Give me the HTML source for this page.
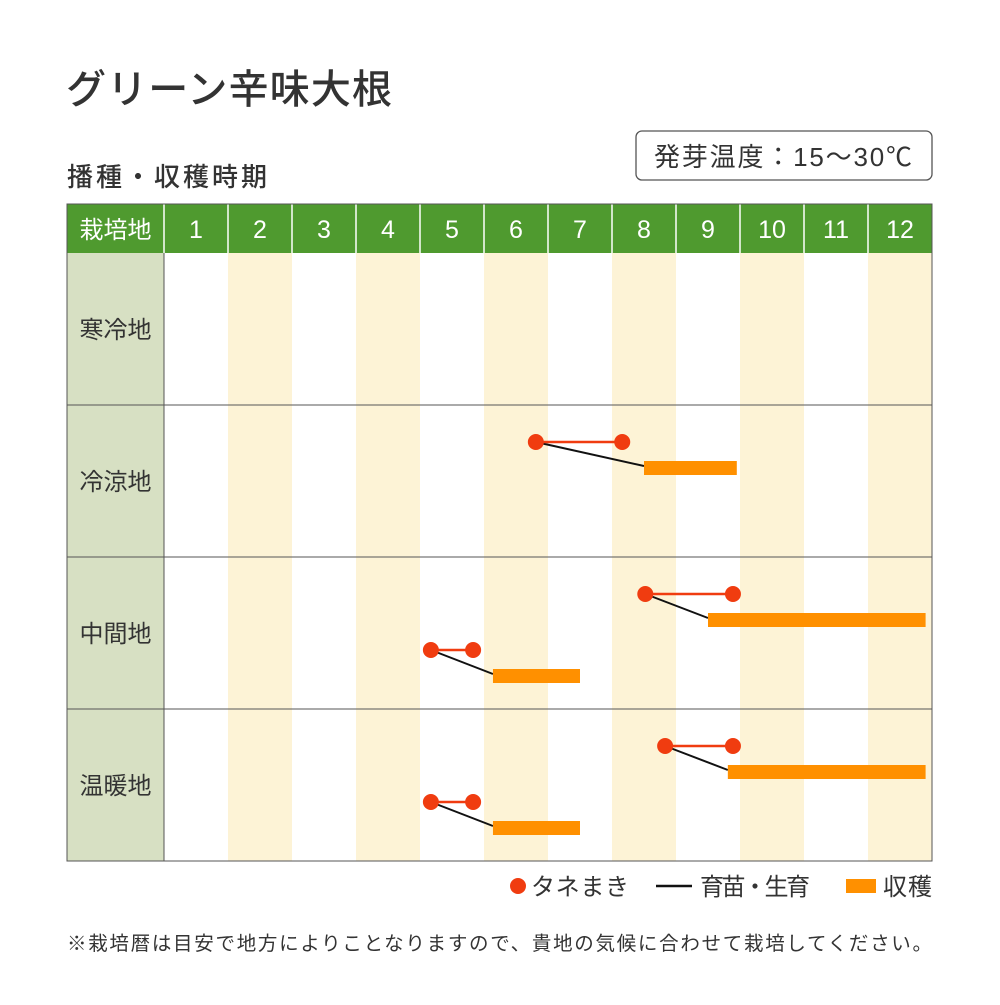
<!DOCTYPE html>
<html><head><meta charset="utf-8">
<style>
body{margin:0;background:#fff;font-family:"Liberation Sans","Noto Sans CJK JP",sans-serif;}
svg text{font-family:"Liberation Sans","Noto Sans CJK JP",sans-serif;}
</style></head>
<body>
<svg width="1000" height="1000" viewBox="0 0 1000 1000">
<text x="66" y="103" font-size="40" font-weight="500" fill="#333" textLength="326">グリーン辛味大根</text>
<text x="67" y="186" font-size="26" font-weight="500" fill="#333" textLength="200">播種・収穫時期</text>
<rect x="636" y="131" width="296" height="49" rx="6" fill="#fff" stroke="#555" stroke-width="1.3"/>
<text x="654" y="166" font-size="26" fill="#333" textLength="258">発芽温度：15～30℃</text>
<g id="grid"></g>
<g id="marks"></g>
<g>
<circle cx="518" cy="886" r="8" fill="#f03c10"/>
<text x="531" y="895" font-size="24" fill="#333" textLength="98">タネまき</text>
<line x1="656" y1="886" x2="692" y2="886" stroke="#111" stroke-width="2.5"/>
<text x="700" y="895" font-size="24" fill="#333" textLength="110">育苗・生育</text>
<rect x="846" y="879" width="30" height="14" fill="#ff9000"/>
<text x="883" y="895" font-size="24" fill="#333" textLength="49">収穫</text>
</g>
<text x="67" y="950" font-size="19.5" fill="#333" textLength="865">※栽培暦は目安で地方によりことなりますので、貴地の気候に合わせて栽培してください。</text>
</svg>
<script>
const months = ["1","2","3","4","5","6","7","8","9","10","11","12"];
const regions = ["寒冷地","冷涼地","中間地","温暖地"];
const sowRegion = [1,2,2,3,3];
const sowLane = [0,0,1,0,1];
const sowStart = [5.81,7.52,4.17,7.83,4.17];
const sowEnd = [7.16,8.89,4.83,8.89,4.83];
const harvestStart = [7.5,8.5,5.14,8.81,5.14];
const harvestEnd = [8.95,11.9,6.5,11.9,6.5];

const NS="http://www.w3.org/2000/svg";
const X0=164, CW=64, TOP=204, HH=49, RH=152, LEFT=67, RIGHT=932;
const xs = m => X0 + m*CW;
const rowTop = r => TOP+HH + r*RH;
const laneY = (r,l) => rowTop(r) + 37 + l*56;
function mk(tag, attrs, parent){const e=document.createElementNS(NS,tag);for(const k in attrs)e.setAttribute(k,attrs[k]);parent.appendChild(e);return e;}
const grid=document.getElementById('grid'), marks=document.getElementById('marks');
const bottom = rowTop(regions.length);
months.forEach((m,i)=>{
  if(i%2===1){
    const r=mk('rect',{x:xs(i),y:TOP+HH,width:CW,height:bottom-TOP-HH,fill:'#fdf3d6'},grid);
    
    
  }
});
const h=mk('rect',{x:LEFT,y:TOP,width:RIGHT-LEFT,height:HH,fill:'#4f9a2f'},grid);


const ht=mk('text',{x:(LEFT+X0)/2,y:TOP+34,'font-size':24,fill:'#fff','text-anchor':'middle'},grid);
ht.textContent='栽培地';


months.forEach((m,i)=>{
  const t=mk('text',{x:xs(i)+CW/2,y:TOP+34,'font-size':25,fill:'#fff','text-anchor':'middle'},grid);
  t.textContent=m;
  
  
  const l=mk('line',{x1:xs(i),y1:TOP,x2:xs(i),y2:TOP+HH,stroke:'#fff','stroke-width':1.5},grid);
  
  
});
const lc=mk('rect',{x:LEFT,y:TOP+HH,width:X0-LEFT,height:bottom-TOP-HH,fill:'#d7e0c3'},grid);


regions.forEach((r,i)=>{
  const t=mk('text',{x:(LEFT+X0)/2,y:rowTop(i)+RH/2+9,'font-size':24,fill:'#333','text-anchor':'middle'},grid);
  t.textContent=r;
  
  
  if(i>0){
    const l=mk('line',{x1:LEFT,y1:rowTop(i),x2:RIGHT,y2:rowTop(i),stroke:'#555','stroke-width':1},grid);
    
    
  }
});
const vl=mk('line',{x1:X0,y1:TOP+HH,x2:X0,y2:bottom,stroke:'#555','stroke-width':1},grid);


const ob=mk('rect',{x:LEFT,y:TOP,width:RIGHT-LEFT,height:bottom-TOP,fill:'none',stroke:'#555','stroke-width':1},grid);


sowRegion.forEach((r,i)=>{
  const y=laneY(r,sowLane[i]), hy=y+26;
  const g=mk('line',{x1:xs(sowStart[i]),y1:y,x2:xs(harvestStart[i]),y2:hy-2,stroke:'#111','stroke-width':2},marks);
  
  
  const hb=mk('rect',{x:xs(harvestStart[i]),y:hy-7,width:xs(harvestEnd[i])-xs(harvestStart[i]),height:14,fill:'#ff9000'},marks);
  
  
  const sl=mk('line',{x1:xs(sowStart[i]),y1:y,x2:xs(sowEnd[i]),y2:y,stroke:'#f03c10','stroke-width':2.5},marks);
  
  
  [sowStart[i],sowEnd[i]].forEach(v=>{
    const c=mk('circle',{cx:xs(v),cy:y,r:8,fill:'#f03c10'},marks);
    
    
  });
});
</script>
</body></html>
